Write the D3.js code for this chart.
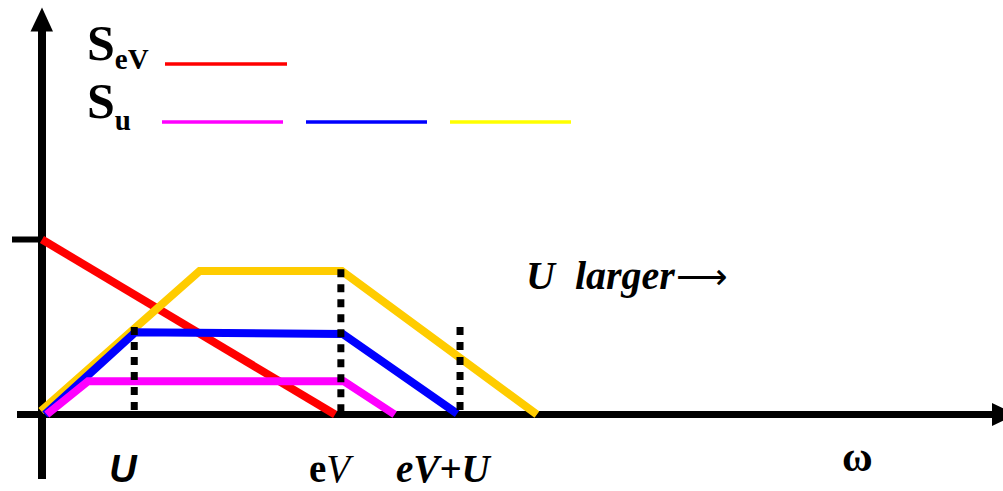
<!DOCTYPE html>
<html>
<head>
<meta charset="utf-8">
<script src="https://cdn.jsdelivr.net/npm/d3@7/dist/d3.min.js"></script>
<style>
  html, body { margin: 0; padding: 0; background: #fff; }
  svg { display: block; }
</style>
</head>
<body>
<svg id="chart" width="1003" height="491"></svg>
<script>
// Spectral weights vs frequency ω (arbitrary units)
const sevX = [0, 3.05];
const sevY = [1.0, 0];

const suSmallX = [0.05, 0.48, 3.14, 3.67];
const suSmallY = [0, 0.19, 0.19, 0];

const suMidX = [0.03, 0.97, 3.13, 4.32];
const suMidY = [0, 0.47, 0.46, 0.005];

const suLargeX = [-0.01, 1.64, 3.12, 5.15];
const suLargeY = [0.02, 0.82, 0.82, 0];

// Marker positions on the ω axis and heights of their dotted guides
const markerX = [0.96, 3.11, 4.35];
const markerTop = [0.50, 0.83, 0.50];

const svg = d3.select("#chart");

const x = d3.scaleLinear().domain([0, 10]).range([42, 1003]);
const y = d3.scaleLinear().domain([0, 1]).range([414.5, 239.5]);

const line = d3.line().x(d => x(d[0])).y(d => y(d[1]));
const zip = (a, b) => a.map((v, i) => [v, b[i]]);

// Axes
const axisG = svg.append("g");
axisG.append("line")
  .attr("x1", 17).attr("x2", 996)
  .attr("y1", y(0)).attr("y2", y(0))
  .attr("stroke", "#000").attr("stroke-width", 7);
axisG.append("path")
  .attr("d", `M992,403 L1016,${y(0)} L992,426 Z`)
  .attr("fill", "#000");
axisG.append("line")
  .attr("x1", x(0)).attr("x2", x(0))
  .attr("y1", 479).attr("y2", 28)
  .attr("stroke", "#000").attr("stroke-width", 8);
axisG.append("path")
  .attr("d", `M${x(0)},7.5 L53,31.5 L30.5,31.5 Z`)
  .attr("fill", "#000");
// Single tick marking unit height on the vertical axis
axisG.append("line")
  .attr("x1", 12).attr("x2", x(0))
  .attr("y1", y(1)).attr("y2", y(1))
  .attr("stroke", "#000").attr("stroke-width", 6);

// Curves
const series = [
  { xs: sevX, ys: sevY, color: "#ff0000" },
  { xs: suLargeX, ys: suLargeY, color: "#ffcc00" },
  { xs: suMidX, ys: suMidY, color: "#0000ff" },
  { xs: suSmallX, ys: suSmallY, color: "#ff00ff" }
];
svg.append("g").selectAll("path")
  .data(series)
  .join("path")
  .attr("d", d => line(zip(d.xs, d.ys)))
  .attr("fill", "none")
  .attr("stroke", d => d.color)
  .attr("stroke-width", 8)
  .attr("stroke-linejoin", "miter")
  .attr("stroke-linecap", "butt");

// Dotted guides
svg.append("g").selectAll("line")
  .data(markerX.map((v, i) => [v, markerTop[i]]))
  .join("line")
  .attr("x1", d => x(d[0])).attr("x2", d => x(d[0]))
  .attr("y1", d => y(d[1])).attr("y2", y(0))
  .attr("stroke", "#000")
  .attr("stroke-width", 7)
  .attr("stroke-dasharray", "8,7");

// Legend
const legend = svg.append("g").attr("font-family", "'Liberation Serif', 'Times New Roman', serif")
  .attr("font-weight", "bold").attr("fill", "#000");
const sev = legend.append("text").attr("x", 87).attr("y", 60).attr("font-size", 50);
sev.append("tspan").text("S");
sev.append("tspan").attr("font-size", 29).attr("dy", 9).text("eV");
const su = legend.append("text").attr("x", 87).attr("y", 118).attr("font-size", 50);
su.append("tspan").text("S");
su.append("tspan").attr("font-size", 29).attr("dy", 12).text("u");

const legendLines = [
  { x1: 165, x2: 287, yy: 64, color: "#ff0000" },
  { x1: 162, x2: 283, yy: 122, color: "#ff00ff" },
  { x1: 306, x2: 427, yy: 122, color: "#0000ff" },
  { x1: 450, x2: 571, yy: 122, color: "#ffff00" }
];
svg.append("g").selectAll("line")
  .data(legendLines)
  .join("line")
  .attr("x1", d => d.x1).attr("x2", d => d.x2)
  .attr("y1", d => d.yy).attr("y2", d => d.yy)
  .attr("stroke", d => d.color).attr("stroke-width", 3.5);

// Axis labels
const labels = svg.append("g").attr("fill", "#000");
labels.append("text")
  .attr("x", x(markerX[0]) - 25).attr("y", 482)
  .attr("font-family", "'Liberation Sans', Arial, sans-serif")
  .attr("font-weight", "bold").attr("font-style", "italic")
  .attr("font-size", 38).text("U");

const evLabel = labels.append("text")
  .attr("x", 309).attr("y", 482)
  .attr("font-family", "'Liberation Serif', 'Times New Roman', serif")
  .attr("font-weight", "bold").attr("font-size", 39);
evLabel.append("tspan").text("e");
evLabel.append("tspan").attr("font-style", "italic").attr("font-weight", "normal").text("V");

labels.append("text")
  .attr("x", 396).attr("y", 482)
  .attr("font-family", "'Liberation Serif', 'Times New Roman', serif")
  .attr("font-weight", "bold").attr("font-style", "italic")
  .attr("font-size", 39).text("eV+U");

labels.append("text")
  .attr("x", 842).attr("y", 471)
  .attr("font-family", "'Liberation Serif', 'Times New Roman', serif")
  .attr("font-weight", "bold")
  .attr("font-size", 42).text("ω");

const larger = labels.append("text")
  .attr("x", 526).attr("y", 289)
  .attr("font-family", "'Liberation Serif', 'Times New Roman', serif")
  .attr("font-weight", "bold").attr("font-style", "italic")
  .attr("font-size", 40).attr("xml:space", "preserve");
larger.append("tspan").text("U  larger");
larger.append("tspan")
  .attr("font-family", "'DejaVu Sans', sans-serif")
  .attr("font-style", "normal").attr("font-weight", "normal")
  .attr("font-size", 36).attr("dx", 1).text("⟶");
</script>
</body>
</html>
